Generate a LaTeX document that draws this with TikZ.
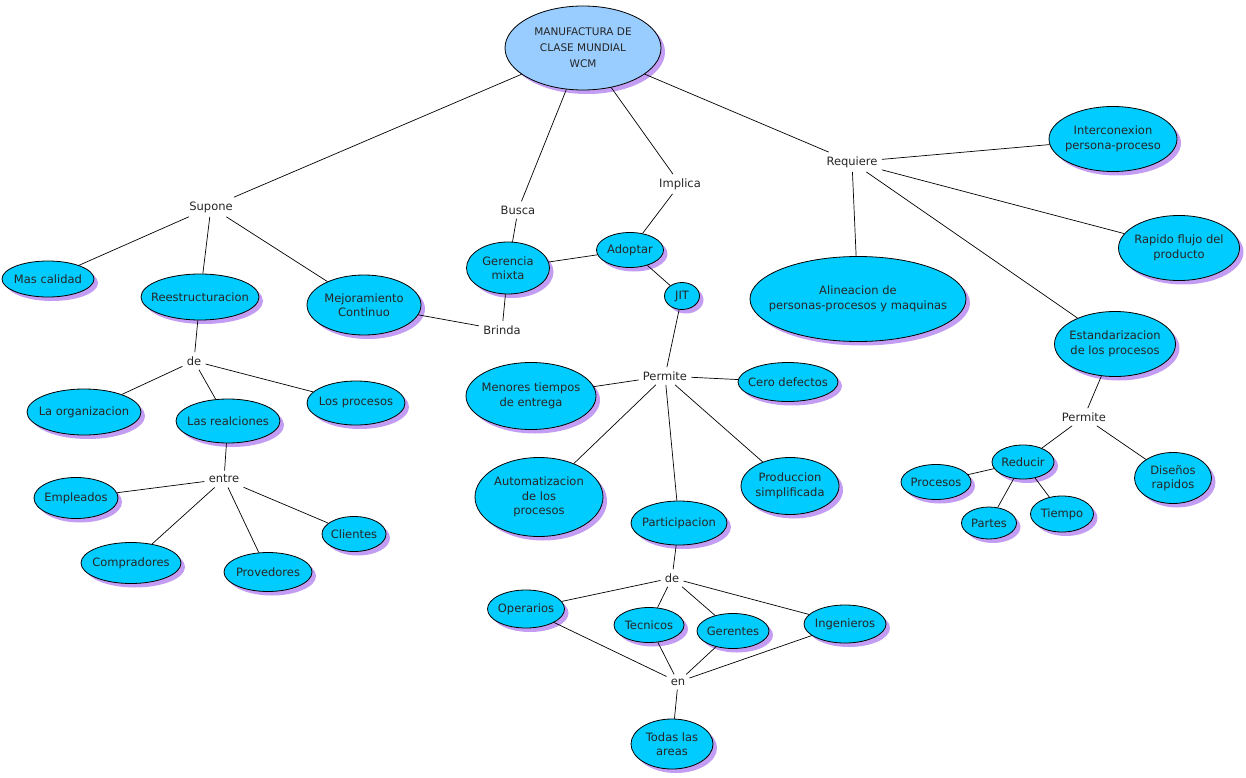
\documentclass[tikz,border=0pt]{standalone}
\usepackage{fontspec}
\setmainfont{DejaVu Sans}
\usepackage{tikz}
\usetikzlibrary{shapes.geometric, shadows}
\definecolor{cmapcyan}{HTML}{00CCFF}
\definecolor{cmaptop}{HTML}{99CCFF}
\definecolor{cmapshade}{HTML}{C39DF3}

\begin{document}
\begin{tikzpicture}[x=1pt, y=-1pt,
        concept/.style={ellipse, draw, line width=0.8pt, fill=cmapcyan, inner sep=0pt,
            drop shadow={shadow xshift=4pt, shadow yshift=-4pt, fill=cmapshade, opacity=1}},
        txt/.style={font=\fontsize{11.5}{14.5}\selectfont, align=center, inner sep=0pt, text=black!85},
        link/.style={font=\fontsize{11.5}{14.5}\selectfont, inner sep=4pt, text=black!85},
        every path/.style={line width=0.7pt}]
        \useasboundingbox (0, 0) rectangle (1246, 778);
        % main concept
        \node[concept, fill=cmaptop, minimum width=156, minimum height=84,
            label={[txt, font=\fontsize{10.5}{16}\selectfont]center:MANUFACTURA DE\\CLASE MUNDIAL\\WCM}] (wcm) at (583, 48) {};
        % linking words
        \node[link] (supone) at (211, 207) {Supone};
        \node[link] (busca) at (518, 210) {Busca};
        \node[link] (implica) at (680, 184) {Implica};
        \node[link] (requiere) at (852, 162) {Requiere};
        \node[link] (brinda) at (502, 330) {Brinda};
        \node[link] (deA) at (194, 361) {de};
        \node[link] (entre) at (224, 479) {entre};
        \node[link] (permiteA) at (665, 376) {Permite};
        \node[link] (deB) at (672, 578) {de};
        \node[link] (en) at (678, 682) {en};
        \node[link] (permiteB) at (1084, 417) {Permite};
        % concepts
        \node[concept, minimum width=92, minimum height=36, label={[txt]center:Mas calidad}] (calidad) at (48, 279) {};
        \node[concept, minimum width=118, minimum height=46, label={[txt]center:Reestructuracion}] (reestr) at (200, 297) {};
        \node[concept, minimum width=114, minimum height=60, label={[txt]center:Mejoramiento\\Continuo}] (mejora) at (364, 305) {};
        \node[concept, minimum width=83, minimum height=52, label={[txt]center:Gerencia\\mixta}] (gerencia) at (508, 268) {};
        \node[concept, minimum width=67, minimum height=35, label={[txt]center:Adoptar}] (adoptar) at (630, 250) {};
        \node[concept, minimum width=35, minimum height=27, label={[txt]center:JIT}] (jit) at (682, 296) {};
        \node[concept, minimum width=128, minimum height=65, label={[txt]center:Interconexion\\persona-proceso}] (interc) at (1113, 139) {};
        \node[concept, minimum width=121, minimum height=65, label={[txt]center:Rapido flujo del\\producto}] (flujo) at (1179, 248) {};
        \node[concept, minimum width=216, minimum height=85, label={[txt]center:Alineacion de\\personas-procesos y maquinas}] (alinea) at (858, 299) {};
        \node[concept, minimum width=121, minimum height=65, label={[txt]center:Estandarizacion\\de los procesos}] (estand) at (1115, 344) {};
        \node[concept, minimum width=114, minimum height=46, label={[txt]center:La organizacion}] (organiz) at (84, 412) {};
        \node[concept, minimum width=104, minimum height=44, label={[txt]center:Las realciones}] (relac) at (228, 421) {};
        \node[concept, minimum width=98, minimum height=44, label={[txt]center:Los procesos}] (losproc) at (356, 403) {};
        \node[concept, minimum width=84, minimum height=41, label={[txt]center:Empleados}] (emplea) at (76, 498) {};
        \node[concept, minimum width=100, minimum height=41, label={[txt]center:Compradores}] (compra) at (131, 563) {};
        \node[concept, minimum width=88, minimum height=39, label={[txt]center:Provedores}] (provee) at (268, 572) {};
        \node[concept, minimum width=64, minimum height=35, label={[txt]center:Clientes}] (client) at (354, 534) {};
        \node[concept, minimum width=130, minimum height=67, label={[txt]center:Menores tiempos\\de entrega}] (menores) at (531, 396) {};
        \node[concept, minimum width=100, minimum height=39, label={[txt]center:Cero defectos}] (cero) at (788, 382) {};
        \node[concept, minimum width=128, minimum height=79, label={[txt]center:Automatizacion\\de los\\procesos}] (automat) at (539, 497) {};
        \node[concept, minimum width=98, minimum height=57, label={[txt]center:Produccion\\simplificada}] (produc) at (790, 486) {};
        \node[concept, minimum width=96, minimum height=44, label={[txt]center:Participacion}] (partic) at (679, 523) {};
        \node[concept, minimum width=77, minimum height=38, label={[txt]center:Operarios}] (operar) at (526, 609) {};
        \node[concept, minimum width=70, minimum height=35, label={[txt]center:Tecnicos}] (tecnic) at (649, 625) {};
        \node[concept, minimum width=72, minimum height=35, label={[txt]center:Gerentes}] (gerent) at (733, 631) {};
        \node[concept, minimum width=82, minimum height=38, label={[txt]center:Ingenieros}] (ingen) at (845, 624) {};
        \node[concept, minimum width=82, minimum height=50, label={[txt]center:Todas las\\areas}] (areas) at (672, 744) {};
        \node[concept, minimum width=62, minimum height=34, label={[txt]center:Reducir}] (reducir) at (1023, 462) {};
        \node[concept, minimum width=70, minimum height=35, label={[txt]center:Procesos}] (procesos) at (936, 482) {};
        \node[concept, minimum width=55, minimum height=32, label={[txt]center:Partes}] (partes) at (989, 523) {};
        \node[concept, minimum width=63, minimum height=36, label={[txt]center:Tiempo}] (tiempo) at (1062, 514) {};
        \node[concept, minimum width=77, minimum height=51, label={[txt]center:Diseños\\rapidos}] (disenos) at (1173, 478) {};
        % connectors
        \begin{scope}[on background layer/.try]
        \draw (wcm) -- (supone);
        \draw (wcm) -- (busca);
        \draw (wcm) -- (implica);
        \draw (wcm) -- (requiere);
        \foreach \c in {calidad, reestr, mejora} \draw (supone) -- (\c);
        \draw (busca) -- (gerencia);
        \draw (implica) -- (adoptar);
        \foreach \c in {interc, flujo, alinea, estand} \draw (requiere) -- (\c);
        \draw (gerencia) -- (adoptar);
        \draw (adoptar) -- (jit);
        \draw (gerencia) -- (brinda);
        \draw (mejora) -- (brinda);
        \draw (reestr) -- (deA);
        \foreach \c in {organiz, relac, losproc} \draw (deA) -- (\c);
        \draw (relac) -- (entre);
        \foreach \c in {emplea, compra, provee, client} \draw (entre) -- (\c);
        \draw (jit) -- (permiteA);
        \foreach \c in {menores, cero, automat, produc, partic} \draw (permiteA) -- (\c);
        \draw (partic) -- (deB);
        \foreach \c in {operar, tecnic, gerent, ingen} {
            \draw (deB) -- (\c);
            \draw (\c) -- (en);
        }
        \draw (en) -- (areas);
        \draw (estand) -- (permiteB);
        \draw (permiteB) -- (reducir);
        \draw (permiteB) -- (disenos);
        \foreach \c in {procesos, partes, tiempo} \draw (reducir) -- (\c);
        \end{scope}
    \end{tikzpicture}
\end{document}
